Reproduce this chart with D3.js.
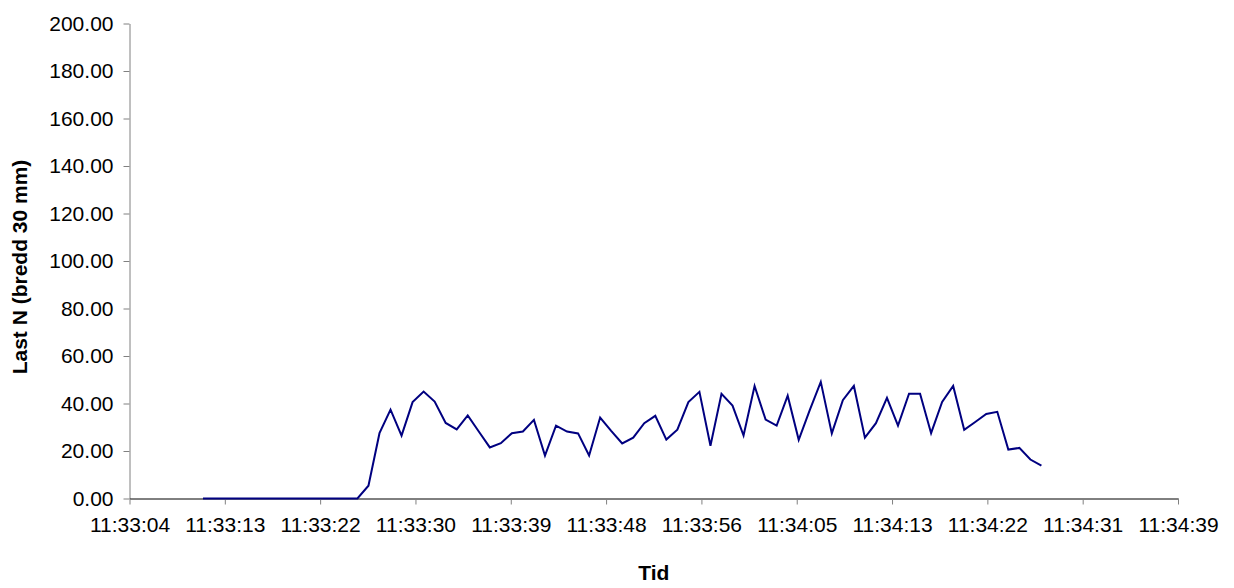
<!DOCTYPE html>
<html>
<head>
<meta charset="utf-8">
<script src="https://cdn.jsdelivr.net/npm/d3@7"></script>
<style>
  html, body { margin: 0; padding: 0; background: #fff; }
  svg { display: block; }
  text { font-family: "Liberation Sans", Arial, sans-serif; fill: #000; }
</style>
</head>
<body>
<svg id="chart" width="1234" height="588"></svg>
<script>
// Load measurement, one sample per second starting at firstSample
const firstSample = "11:33:11";
const sampleStepSec = 1;
const loadN = [
  0, 0, 0, 0, 0, 0, 0, 0, 0, 0, 0, 0, 0, 0, 0,
  5.4, 27.5, 37.4, 26.5, 40.6, 45.0, 40.8, 31.8, 29.1, 35.0,
  28.2, 21.5, 23.3, 27.5, 28.2, 33.1, 18.1, 30.7, 28.2, 27.4,
  18.1, 34.1, 28.5, 23.2, 25.6, 31.7, 34.8, 24.8, 29.0, 40.6,
  44.9, 22.2, 44.1, 39.1, 26.5, 47.4, 33.2, 30.7, 43.3, 24.7,
  37.2, 49.1, 27.4, 41.4, 47.4, 25.6, 31.7, 42.4, 30.7, 44.1,
  44.1, 27.5, 40.7, 47.4, 28.9, 32.2, 35.6, 36.5, 20.6, 21.3,
  16.4, 13.8
];

// Time axis: minimum and major unit in seconds (major unit = 0.0001 day)
const xAxisMin = "11:33:04.34";
const xMajorUnitSec = 8.64;
const timeTickLabels = [
  "11:33:04", "11:33:13", "11:33:22", "11:33:30", "11:33:39", "11:33:48",
  "11:33:56", "11:34:05", "11:34:13", "11:34:22", "11:34:31", "11:34:39"
];
const yTickValues = [0, 20, 40, 60, 80, 100, 120, 140, 160, 180, 200];

const xTitle = "Tid";
const yTitle = "Last N (bredd 30 mm)";

// --- helpers ---
function toSec(t) {
  const [h, m, s] = t.split(":");
  return (+h) * 3600 + (+m) * 60 + (+s);
}

const t0 = toSec(firstSample);
const data = loadN.map((v, i) => ({ t: t0 + i * sampleStepSec, v }));

const axisMinSec = toSec(xAxisMin);
const tickSecs = timeTickLabels.map((_, i) => axisMinSec + i * xMajorUnitSec);

// --- layout ---
const svg = d3.select("#chart");
const plot = { left: 129.5, right: 1178, top: 23.5, bottom: 498.5 };
const fontSize = "21px";

const x = d3.scaleLinear()
  .domain([tickSecs[0], tickSecs[tickSecs.length - 1]])
  .range([plot.left, plot.right]);

const y = d3.scaleLinear()
  .domain([0, 200])
  .range([plot.bottom, plot.top]);

// Y axis
const yAxis = svg.append("g")
  .attr("transform", `translate(${plot.left},0)`)
  .call(d3.axisLeft(y)
    .tickValues(yTickValues)
    .tickSize(6)
    .tickSizeOuter(0)
    .tickPadding(10)
    .tickFormat(d3.format(".2f")));
yAxis.select(".domain").attr("stroke", "#808080");
yAxis.selectAll(".tick line").attr("stroke", "#808080");
yAxis.selectAll(".tick text").style("font-size", fontSize).attr("fill", "#000");

// X axis
const xAxis = svg.append("g")
  .attr("transform", `translate(0,${plot.bottom})`)
  .call(d3.axisBottom(x)
    .tickValues(tickSecs)
    .tickSize(6)
    .tickSizeOuter(0)
    .tickPadding(13)
    .tickFormat((d, i) => timeTickLabels[i]));
xAxis.select(".domain").attr("stroke", "#000");
xAxis.selectAll(".tick line").attr("stroke", "#808080");
xAxis.selectAll(".tick text").style("font-size", fontSize).attr("fill", "#000");

// Series line
const line = d3.line()
  .x(d => x(d.t))
  .y(d => y(d.v));

svg.append("path")
  .datum(data)
  .attr("fill", "none")
  .attr("stroke", "#000080")
  .attr("stroke-width", 2)
  .attr("stroke-linejoin", "miter")
  .attr("d", line);

// Axis titles
svg.append("text")
  .attr("x", (plot.left + plot.right) / 2)
  .attr("y", 580)
  .attr("text-anchor", "middle")
  .style("font-size", fontSize)
  .style("font-weight", "bold")
  .text(xTitle);

svg.append("text")
  .attr("transform", `translate(27,${(plot.top + plot.bottom) / 2 + 6}) rotate(-90)`)
  .attr("text-anchor", "middle")
  .style("font-size", fontSize)
  .style("font-weight", "bold")
  .text(yTitle);
</script>
</body>
</html>
